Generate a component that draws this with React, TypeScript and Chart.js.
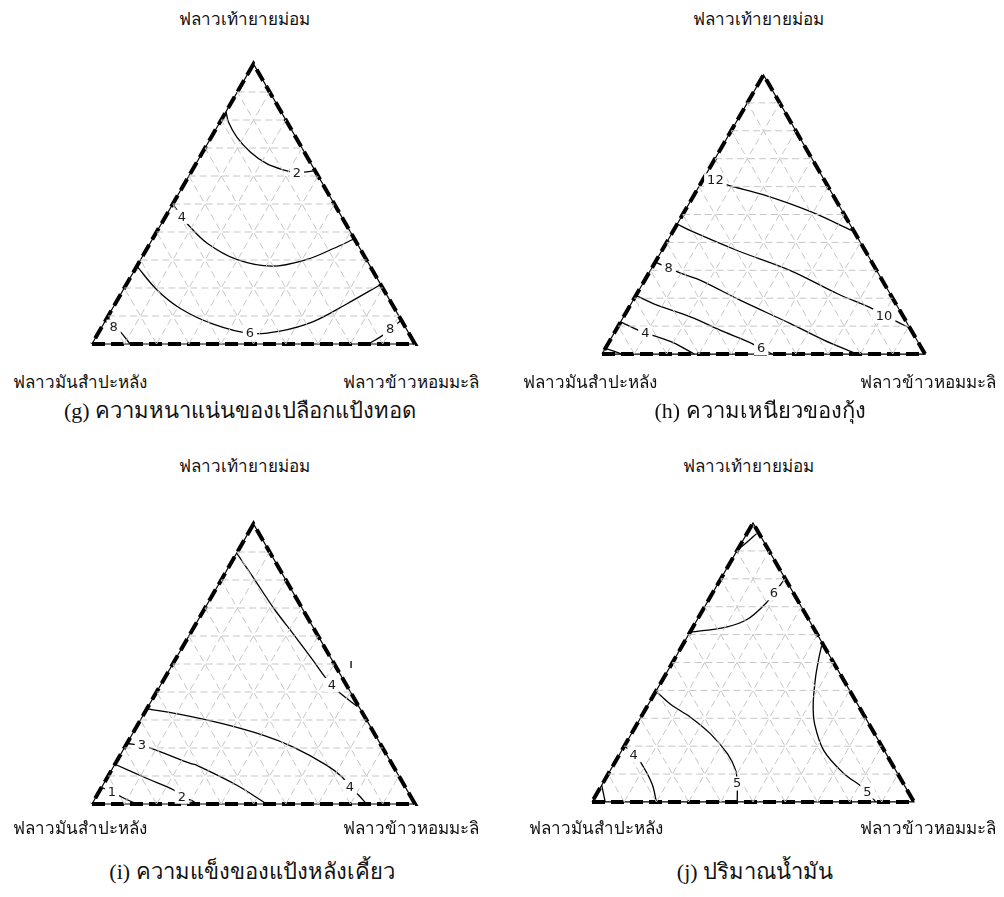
import React, { useEffect, useRef } from "react";
import { Chart, registerables } from "chart.js";

Chart.register(...registerables);

const SQ = Math.sqrt(3) / 2;

// Component names at the three corners
const APEX_NAME = "ฟลาวเท้ายายม่อม";
const LEFT_NAME = "ฟลาวมันสำปะหลัง";
const RIGHT_NAME = "ฟลาวข้าวหอมมะลิ";

// Guide lines every 10 %
const GRID_STEPS = [10, 20, 30, 40, 50, 60, 70, 80, 90];

// Contours, points as [apex %, right-corner %]
// (g) crust density
const g2 = [[83, 0], [79.3, 2.6], [73.9, 7.9], [68.6, 14.7], [64.4, 21.9], [62, 28.8], [61.1, 32.9], [61.4, 35], [61.8, 37.6]];
const g4 = [[50, 0], [45.4, 5.1], [42.4, 8.7], [36.1, 17.5], [30.2, 29.7], [27.8, 41.8], [30.2, 51.4], [34.1, 57.7], [37.4, 62.2]];
const g6 = [[27.8, 0], [19.3, 10.5], [12.7, 21], [7.1, 34], [3.8, 47], [4.6, 55.9], [8, 64.5], [14.3, 71.7], [21, 78.5]];
const g8a = [[9.8, 0], [6.2, 3.6], [4.6, 6.3], [0, 11.8]];
const g8b = [[0, 85.6], [2.9, 88.3], [5.2, 89.7], [8.3, 91.4]];
const gLabels = [
  { text: "2", at: [61.1, 32.9] },
  { text: "4", at: [45.4, 5.1] },
  { text: "6", at: [3.8, 47] },
  { text: "8", at: [6.2, 3.6] },
  { text: "8", at: [5.2, 89.7] },
];

// (h) shrimp chewiness
const h12 = [[62, 0], [62.2, 4], [60.5, 8.7], [57, 21.6], [51, 39.1], [44.2, 55.4]];
const h10 = [[46.6, 0], [44.2, 5.3], [37.1, 23.3], [29.9, 43.4], [21.6, 62.1], [16.3, 75.5], [13.7, 80.5], [11.5, 85.7], [9.7, 89.8]];
const h8 = [[32.9, 0], [30.9, 5.2], [29, 9.8], [26.4, 17.3], [19.2, 33.3], [10.9, 52.9], [5, 66.2], [0, 79]];
const h6 = [[21, 0], [17.5, 8.3], [13.3, 20.7], [8, 33.7], [4, 44], [2, 48.3], [0, 52.7]];
const h4 = [[11.5, 0], [7.4, 9.7], [6.4, 13.3], [4, 20.2], [0, 28.6]];
const h2 = [[2, 0], [0, 6.2]];
const hLabels = [
  { text: "12", at: [62.2, 4] },
  { text: "10", at: [13.7, 80.5] },
  { text: "8", at: [30.9, 5.2] },
  { text: "6", at: [2, 48.3] },
  { text: "4", at: [7.4, 9.7] },
];

// (i) hardness after chewing
const iTop4 = [[89.6, 0], [80.7, 9.7], [70, 21.2], [60.6, 32.1], [51.1, 43], [45.4, 49.4], [42.5, 53], [39.7, 56.8], [34.8, 64.8]];
const iLow4 = [[34, 0], [32, 11.3], [28.6, 26.4], [24.5, 40.9], [20.3, 52.2], [13.8, 65.8], [9.7, 72.5], [6.1, 76.8], [3.2, 80.9], [0, 85]];
const i3 = [[21.6, 0], [20.9, 5], [19.8, 8.7], [14.5, 23.2], [13.8, 25.6], [6.7, 41.5], [0, 54.1]];
const i2 = [[14.2, 0], [9.1, 12.5], [5, 22.8], [2.6, 26.5], [1.2, 30.3], [0, 32.5]];
const i1 = [[5.9, 0], [4.4, 4], [2.4, 8.1], [0, 13.9]];
const iTick = [[51.1, 54.65], [48.6, 55.9]];
const iLabels = [
  { text: "4", at: [42.5, 53] },
  { text: "4", at: [6.1, 76.8] },
  { text: "3", at: [20.9, 5] },
  { text: "2", at: [2.6, 26.5] },
  { text: "1", at: [4.4, 4] },
];

// (j) oil content
const jApex = [[90.3, 0], [93.2, 1.6], [96.2, 3]];
const j6 = [[60.8, 0], [62.8, 10.6], [65.5, 15.5], [70.7, 18.2], [74.8, 19.1], [79.3, 19.8]];
const j5R = [[56, 43.3], [51.5, 44.7], [44.4, 47.2], [35, 51.2], [27.9, 55.2], [18.4, 62.8], [10.2, 73.1], [6, 80.2], [3.7, 83.7], [0, 88.1]];
const j5L = [[39.7, 0], [35, 6.9], [30.3, 15.5], [24.4, 24.6], [17.3, 33.4], [11.4, 38.9], [6.6, 41.8], [0, 45.1]];
const j4 = [[20.2, 0], [16.7, 4.6], [14.3, 7.9], [6.6, 15.3], [0, 20]];
const j3 = [[6, 0], [0, 4.1]];
const jLabels = [
  { text: "6", at: [74.8, 19.1] },
  { text: "5", at: [3.7, 83.7] },
  { text: "5", at: [6.6, 41.8] },
  { text: "4", at: [16.7, 4.6] },
];

const CAPTIONS = [
  "(g) ความหนาแน่นของเปลือกแป้งทอด",
  "(h) ความเหนียวของกุ้ง",
  "(i) ความแข็งของแป้งหลังเคี้ยว",
  "(j) ปริมาณน้ำมัน",
];

type Pt = number[];
type Lbl = { text: string; at: Pt };

// Page placement of each triangle: left corner and base length (px)
const PANELS = [
  { id: "g", lx: 91.7, ly: 344, w: 323.3, contours: [g2, g4, g6, g8a, g8b], labels: gLabels, caption: CAPTIONS[0],
    apexX: 244, apexY: 20, baseY: 383, capY: 411, leftX: 80, rightX: 411, capX: 240 },
  { id: "h", lx: 601.7, ly: 354, w: 322.6, contours: [h12, h10, h8, h6, h4, h2], labels: hLabels, caption: CAPTIONS[1],
    apexX: 758, apexY: 20, baseY: 383, capY: 411, leftX: 590, rightX: 928, capX: 760 },
  { id: "i", lx: 91.7, ly: 804, w: 323.3, contours: [iTop4, iLow4, i3, i2, i1, iTick], labels: iLabels, caption: CAPTIONS[2],
    apexX: 244, apexY: 467, baseY: 829, capY: 872, leftX: 80, rightX: 411, capX: 252 },
  { id: "j", lx: 591.7, ly: 802, w: 321.6, contours: [jApex, j6, j5R, j5L, j4, j3], labels: jLabels, caption: CAPTIONS[3],
    apexX: 748, apexY: 467, baseY: 829, capY: 872, leftX: 596, rightX: 928, capX: 755 },
];

const PAD = 24;

const toXY = (p: Pt) => ({ x: p[1] + p[0] / 2, y: p[0] * SQ });

function lineSet(pts: Pt[], color: string, width: number, dash: number[], tension: number) {
  return {
    data: pts.map(toXY),
    showLine: true,
    borderColor: color,
    borderWidth: width,
    borderDash: dash,
    pointRadius: 0,
    pointHoverRadius: 0,
    fill: false,
    tension,
    borderCapStyle: "butt" as const,
  };
}

const contourLabels = {
  id: "contourLabels",
  afterDatasetsDraw(chart: any, _args: any, opts: any) {
    const { ctx, scales } = chart;
    const labels: Lbl[] = opts.labels || [];
    ctx.save();
    ctx.font = "13px 'DejaVu Sans', Verdana, sans-serif";
    ctx.textAlign = "center";
    ctx.textBaseline = "middle";
    labels.forEach((l) => {
      const p = toXY(l.at);
      const px = scales.x.getPixelForValue(p.x);
      const py = scales.y.getPixelForValue(p.y);
      const tw = ctx.measureText(l.text).width;
      ctx.fillStyle = "#ffffff";
      ctx.fillRect(px - tw / 2 - 3, py - 7, tw + 6, 14);
      ctx.fillStyle = "#1a1a1a";
      ctx.fillText(l.text, px, py + 0.5);
    });
    ctx.restore();
  },
};

function TernaryPanel({ panel }: { panel: (typeof PANELS)[number] }) {
  const ref = useRef<HTMLCanvasElement | null>(null);
  const s = panel.w / 100;
  const height = panel.w * SQ;
  const cw = Math.round(panel.w + 2 * PAD);
  const ch = Math.round(height + 2 * PAD);

  useEffect(() => {
    if (!ref.current) return;
    const datasets: any[] = [];
    GRID_STEPS.forEach((v) => {
      const grey = "#c6c6c6";
      datasets.push(lineSet([[v, 0], [v, 100 - v]], grey, 1, [7, 4], 0));
      datasets.push(lineSet([[0, v], [100 - v, v]], grey, 1, [7, 4], 0));
      datasets.push(lineSet([[0, 100 - v], [100 - v, 0]], grey, 1, [7, 4], 0));
    });
    const frame: Pt[] = [[0, 0], [0, 100], [100, 0], [0, 0]];
    datasets.push(lineSet(frame, "#000000", 1.2, [], 0));
    datasets.push(lineSet(frame, "#000000", 4, [13, 6], 0));
    panel.contours.forEach((c) => datasets.push(lineSet(c, "#000000", 1.3, [], 0.35)));

    const chart = new Chart(ref.current, {
      type: "scatter",
      data: { datasets },
      options: {
        animation: false,
        responsive: false,
        devicePixelRatio: 1,
        layout: { padding: 0 },
        events: [],
        scales: {
          x: { type: "linear", min: -PAD / s, max: 100 + PAD / s, display: false },
          y: { type: "linear", min: -PAD / s, max: 100 * SQ + PAD / s, display: false },
        },
        plugins: {
          legend: { display: false },
          tooltip: { enabled: false },
          contourLabels: { labels: panel.labels },
        } as any,
      },
      plugins: [contourLabels],
    });
    return () => chart.destroy();
  }, [panel]);

  return (
    <canvas
      ref={ref}
      width={cw}
      height={ch}
      style={{ position: "absolute", left: panel.lx - PAD, top: panel.ly - height - PAD, width: cw, height: ch }}
    />
  );
}

const textStyle = (x: number, y: number, size: number): React.CSSProperties => ({
  position: "absolute",
  left: x,
  top: y,
  transform: "translate(-50%, -50%)",
  whiteSpace: "nowrap",
  fontFamily: "'Liberation Serif', 'DejaVu Serif', serif",
  fontSize: size,
  color: "#111",
  lineHeight: 1.2,
});

export default function App() {
  return (
    <div style={{ position: "absolute", left: 0, top: 0, width: 1004, height: 897, background: "#fff", overflow: "hidden" }}>
      {PANELS.map((p) => (
        <React.Fragment key={p.id}>
          <TernaryPanel panel={p} />
          <div style={textStyle(p.apexX, p.apexY, 17)}>{APEX_NAME}</div>
          <div style={textStyle(p.leftX, p.baseY, 17)}>{LEFT_NAME}</div>
          <div style={textStyle(p.rightX, p.baseY, 17)}>{RIGHT_NAME}</div>
          <div style={textStyle(p.capX, p.capY, 22)}>{p.caption}</div>
        </React.Fragment>
      ))}
    </div>
  );
}
